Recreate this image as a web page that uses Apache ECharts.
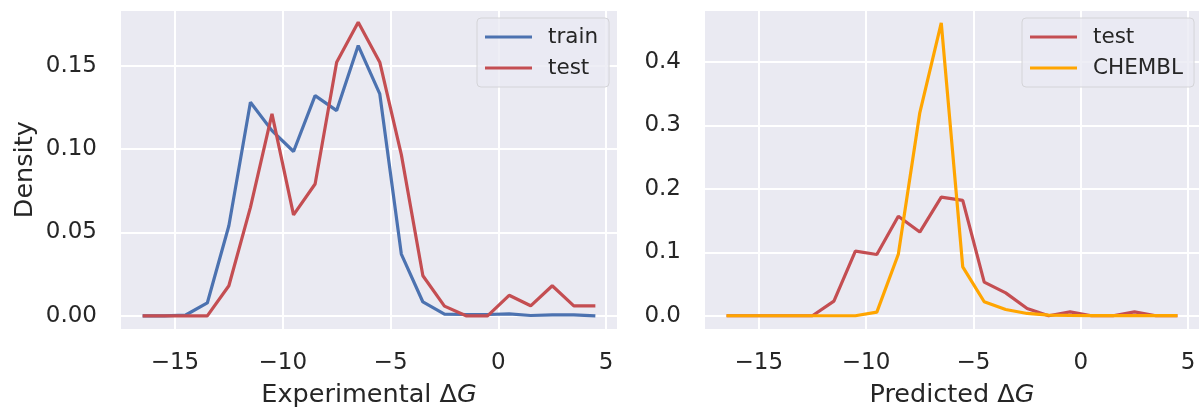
<!DOCTYPE html>
<html><head><meta charset="utf-8">
<script src="https://cdn.jsdelivr.net/npm/echarts@6/dist/echarts.min.js"></script>
<style>html,body{margin:0;padding:0;background:#fff}#c{width:1200px;height:413px}</style>
</head><body><div id="c"></div>
<script>
// bin centers (ΔG)
const binCenters = [-16.5,-15.5,-14.5,-13.5,-12.5,-11.5,-10.5,-9.5,-8.5,-7.5,-6.5,-5.5,-4.5,-3.5,-2.5,-1.5,-0.5,0.5,1.5,2.5,3.5,4.5];
// left panel: Experimental ΔG densities
const trainExp = [0,0,0.0005,0.0077,0.054,0.128,0.111,0.0985,0.132,0.123,0.162,0.133,0.037,0.0083,0.001,0.0008,0.0008,0.0012,0.0002,0.0006,0.0006,0];
const testExp  = [0,0,0,0,0.018,0.065,0.121,0.0605,0.079,0.152,0.176,0.152,0.0966,0.024,0.0058,0,0,0.0123,0.006,0.018,0.006,0.006];
// right panel: Predicted ΔG densities
const testPred   = [0,0,0,0,0,0.023,0.102,0.0966,0.157,0.132,0.187,0.182,0.053,0.036,0.0114,0,0.006,0,0,0.006,0,0];
const chemblPred = [0,0,0,0,0,0,0,0.0057,0.097,0.32,0.462,0.077,0.022,0.0099,0.0036,0.001,0.0005,0.0003,0.0002,0.0002,0.0001,0.0001];

const FONT = 'DejaVu Sans';
const TXT = '#262626';
const BLUE = '#4C72B0', RED = '#C44E52', ORANGE = '#FFA500';

const pairs = arr => binCenters.map((x, i) => [x, arr[i]]);

function xAxis(gridIndex, nameParts) {
  return {
    type: 'value', gridIndex, min: -17.55, max: 5.55, splitNumber: 5,
    axisLine: {show: false}, axisTick: {show: false},
    splitLine: {show: true, lineStyle: {color: '#ffffff', width: 2}},
    axisLabel: {color: TXT, fontFamily: FONT, fontSize: 23, margin: 22,
      showMinLabel: false, showMaxLabel: false,
      formatter: v => String(v).replace('-', '\u2212')},
    name: '{n|' + nameParts[0] + '}{i|' + nameParts[1] + '}',
    nameLocation: 'middle', nameGap: 52,
    nameTextStyle: {rich: {
      n: {fontFamily: FONT, fontSize: 25.5, color: TXT},
      i: {fontFamily: FONT, fontSize: 25.5, color: TXT, fontStyle: 'italic'}
    }}
  };
}
function yAxis(gridIndex, min, max, splitNumber, decimals, name) {
  const ax = {
    type: 'value', gridIndex, min, max, splitNumber,
    axisLine: {show: false}, axisTick: {show: false},
    splitLine: {show: true, lineStyle: {color: '#ffffff', width: 2}},
    axisLabel: {color: TXT, fontFamily: FONT, fontSize: 23, margin: 23,
      showMinLabel: false, showMaxLabel: false,
      formatter: v => v.toFixed(decimals)}
  };
  if (name) {
    ax.name = name; ax.nameLocation = 'middle'; ax.nameGap = 82;
    ax.nameTextStyle = {fontFamily: FONT, fontSize: 25.5, color: TXT};
  }
  return ax;
}
function legend(left, names) {
  return {
    data: names, left, top: 18, orient: 'vertical', icon: 'rect',
    itemWidth: 47, itemHeight: 3, itemGap: 9,
    textStyle: {fontFamily: FONT, fontSize: 21.5, color: TXT, lineHeight: 22, padding: [0, 0, 0, 11]},
    padding: [8, 11, 8, 8],
    backgroundColor: 'rgba(234,234,242,0.8)', borderColor: '#d4d4d8', borderWidth: 1, borderRadius: 4
  };
}
function line(name, data, color, xi) {
  return {type: 'line', name, xAxisIndex: xi, yAxisIndex: xi, data: pairs(data),
    symbol: 'none', lineStyle: {width: 3.2, color}, itemStyle: {color}, animation: false};
}

const chart = echarts.init(document.getElementById('c'), null, {renderer: 'canvas'});
chart.setOption({
  backgroundColor: '#ffffff',
  animation: false,
  grid: [
    {left: 120, top: 9.5, width: 498, height: 323.5, show: true, backgroundColor: '#EAEAF2', borderWidth: 0},
    {left: 704, top: 9.5, width: 498, height: 323.5, show: true, backgroundColor: '#EAEAF2', borderWidth: 0}
  ],
  xAxis: [xAxis(0, ['Experimental \u0394', 'G']), xAxis(1, ['Predicted \u0394', 'G'])],
  yAxis: [yAxis(0, -0.0085, 0.1836, 4, 2, 'Density'), yAxis(1, -0.0225, 0.483, 5, 1, null)],
  legend: [legend(477, ['train', 'test']), legend(1022, ['test', 'CHEMBL'])],
  series: [
    line('train', trainExp, BLUE, 0),
    line('test', testExp, RED, 0),
    line('test', testPred, RED, 1),
    line('CHEMBL', chemblPred, ORANGE, 1)
  ]
});
</script></body></html>
